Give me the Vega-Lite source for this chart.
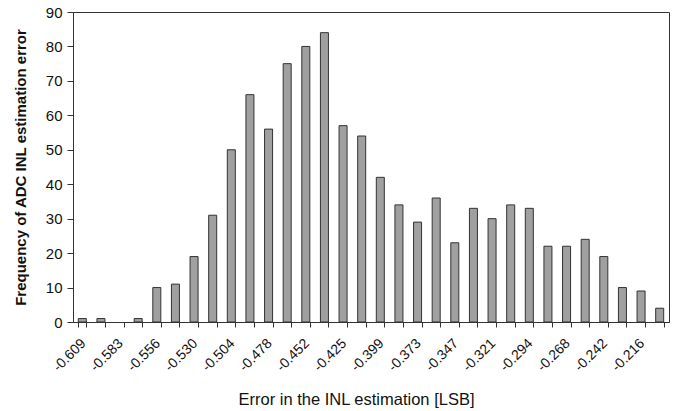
{
  "$schema": "https://vega.github.io/schema/vega-lite/v6.json",
  "width": 596,
  "height": 310,
  "autosize": "none",
  "padding": {"left": 73, "top": 12, "right": 10, "bottom": 89},
  "background": "white",
  "config": {
    "view": {"stroke": "#333333", "strokeWidth": 1},
    "font": "Liberation Sans",
    "axis": {"domainColor": "#333333", "tickColor": "#333333", "labelColor": "#111111", "titleColor": "#111111", "grid": false}
  },
  "data": {
    "values": [
      {"bin": "-0.609", "freq": 1},
      {"bin": "-0.596", "freq": 1},
      {"bin": "-0.583", "freq": 0},
      {"bin": "-0.570", "freq": 1},
      {"bin": "-0.556", "freq": 10},
      {"bin": "-0.543", "freq": 11},
      {"bin": "-0.530", "freq": 19},
      {"bin": "-0.517", "freq": 31},
      {"bin": "-0.504", "freq": 50},
      {"bin": "-0.491", "freq": 66},
      {"bin": "-0.478", "freq": 56},
      {"bin": "-0.465", "freq": 75},
      {"bin": "-0.452", "freq": 80},
      {"bin": "-0.439", "freq": 84},
      {"bin": "-0.425", "freq": 57},
      {"bin": "-0.412", "freq": 54},
      {"bin": "-0.399", "freq": 42},
      {"bin": "-0.386", "freq": 34},
      {"bin": "-0.373", "freq": 29},
      {"bin": "-0.360", "freq": 36},
      {"bin": "-0.347", "freq": 23},
      {"bin": "-0.334", "freq": 33},
      {"bin": "-0.321", "freq": 30},
      {"bin": "-0.308", "freq": 34},
      {"bin": "-0.294", "freq": 33},
      {"bin": "-0.281", "freq": 22},
      {"bin": "-0.268", "freq": 22},
      {"bin": "-0.255", "freq": 24},
      {"bin": "-0.242", "freq": 19},
      {"bin": "-0.229", "freq": 10},
      {"bin": "-0.216", "freq": 9},
      {"bin": "-0.203", "freq": 4}
    ]
  },
  "mark": {"type": "bar", "fill": "#a0a0a0", "stroke": "#333333", "strokeWidth": 1},
  "encoding": {
    "x": {
      "field": "bin",
      "type": "ordinal",
      "sort": null,
      "scale": {"paddingInner": 0.57, "paddingOuter": 0.285},
      "axis": {
        "title": "Error in the INL estimation [LSB]",
        "titleFontSize": 16.5,
        "titleFontWeight": "normal",
        "titleX": 283,
        "titleAlign": "center",
        "titlePadding": 18,
        "labelAngle": -45,
        "labelFontSize": 14,
        "labelPadding": 9,
        "labelOffset": -4,
        "tickBand": "extent",
        "tickSize": 5,
        "labelExpr": "indexof(['-0.609','-0.583','-0.556','-0.530','-0.504','-0.478','-0.452','-0.425','-0.399','-0.373','-0.347','-0.321','-0.294','-0.268','-0.242','-0.216'], datum.value) >= 0 ? datum.value : ''"
      }
    },
    "y": {
      "field": "freq",
      "type": "quantitative",
      "scale": {"domain": [0, 90], "nice": false},
      "axis": {
        "title": "Frequency of ADC INL estimation error",
        "titleFontSize": 15,
        "titleFontWeight": "bold",
        "titlePadding": 17,
        "values": [0, 10, 20, 30, 40, 50, 60, 70, 80, 90],
        "labelFontSize": 15,
        "labelPadding": 5,
        "tickSize": 6
      }
    },
    "opacity": {"condition": {"test": "datum.freq > 0", "value": 1}, "value": 0}
  }
}
